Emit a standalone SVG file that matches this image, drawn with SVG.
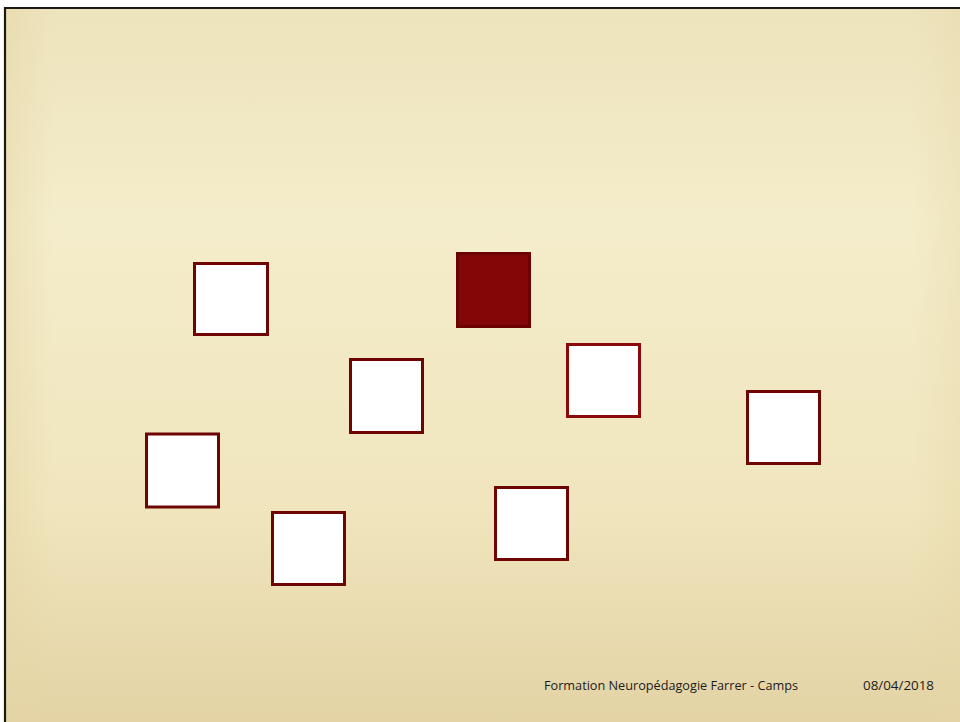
<svg xmlns="http://www.w3.org/2000/svg" width="960" height="722" viewBox="0 0 960 722">
  <defs>
    <linearGradient id="bg" x1="0" y1="0" x2="0" y2="1">
      <stop offset="0" stop-color="#ede3bc"/>
      <stop offset="0.3" stop-color="#f4edcb"/>
      <stop offset="0.7" stop-color="#f0e5bd"/>
      <stop offset="1" stop-color="#e3d3a5"/>
    </linearGradient>
    <linearGradient id="side" x1="0" y1="0" x2="1" y2="0">
      <stop offset="0" stop-color="#e6d6a6" stop-opacity="0.5"/>
      <stop offset="0.05" stop-color="#e6d6a6" stop-opacity="0"/>
      <stop offset="0.95" stop-color="#e6d6a6" stop-opacity="0"/>
      <stop offset="1" stop-color="#e6d6a6" stop-opacity="0.35"/>
    </linearGradient>
    <style>
      .box { fill: #ffffff; stroke: #6e0505; stroke-width: 3; }
      .filled { fill: #850606; stroke: #6a0303; stroke-width: 3; }
      .txt { font-family: "Open Sans", "Liberation Sans", sans-serif; font-size: 12.5px; fill: #1c1c1c; }
    </style>
  </defs>
  <rect x="0" y="0" width="960" height="722" fill="#ffffff"/>
  <rect x="5" y="8" width="955" height="714" fill="url(#bg)"/>
  <rect x="5" y="8" width="955" height="714" fill="url(#side)"/>
  <path d="M5 722 V8 H960" fill="none" stroke="#1a1a14" stroke-width="2.2"/>

  <g id="nodes">
    <g id="n1"><rect class="box" x="194.5" y="263.5" width="73" height="71"/></g>
    <g id="n2"><rect class="filled" x="457.5" y="253.5" width="72" height="73"/></g>
    <g id="n3"><rect class="box" x="350.5" y="359.5" width="72" height="73"/></g>
    <g id="n4"><rect class="box" x="567.5" y="344.5" width="72" height="72" style="stroke:#8a0a0a"/></g>
    <g id="n5"><rect class="box" x="747.5" y="391.5" width="72" height="72"/></g>
    <g id="n6"><rect class="box" x="146.5" y="434" width="72" height="73"/></g>
    <g id="n7"><rect class="box" x="272.5" y="512.5" width="72" height="72"/></g>
    <g id="n8"><rect class="box" x="495.5" y="487.5" width="72" height="72"/></g>
  </g>
  <g id="connectors"></g>

  <text class="txt" x="544" y="690" textLength="254" lengthAdjust="spacingAndGlyphs">Formation Neuropédagogie Farrer - Camps</text>
  <text class="txt" x="863" y="690" textLength="71" lengthAdjust="spacingAndGlyphs">08/04/2018</text>
</svg>
